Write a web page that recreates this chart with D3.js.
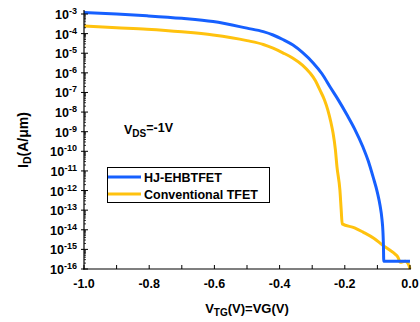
<!DOCTYPE html>
<html><head><meta charset="utf-8">
<script src="https://cdn.jsdelivr.net/npm/d3@7"></script>
<style>body{margin:0;background:#fff}svg{display:block}text{font-family:Arial,"Liberation Sans",sans-serif;font-weight:bold;fill:#000}</style>
</head><body>
<svg id="c" width="420" height="322"></svg>
<script>
const seriesNames = ["HJ-EHBTFET", "Conventional TFET"];
const seriesColors = ["#1660ff", "#ffc20e"];
const blueV = [-1.0,-0.9,-0.807,-0.7,-0.604,-0.5,-0.45,-0.42,-0.39,-0.359,-0.33,-0.297,-0.27,-0.245,-0.22,-0.193,-0.17,-0.144,-0.128,-0.113,-0.1,-0.092,-0.086,-0.083,-0.0815,-0.0805,0.0];
const blueI = [1.2e-3,1.0e-3,8.1e-4,6.0e-4,4.1e-4,1.9e-4,1.26e-4,8.5e-5,5.0e-5,2.6e-5,1.1e-5,3.2e-6,9e-7,1.9e-7,4.2e-8,7.1e-9,1.4e-9,1.6e-10,3.2e-11,4.8e-12,7.9e-13,1.8e-13,3.5e-14,7.9e-15,1.6e-15,2.5e-16,2.5e-16];
const yellowV = [-1.0,-0.9,-0.807,-0.7,-0.604,-0.5,-0.45,-0.42,-0.39,-0.359,-0.33,-0.307,-0.29,-0.276,-0.262,-0.252,-0.243,-0.236,-0.229,-0.224,-0.215,-0.211,-0.208,-0.17,-0.144,-0.11,-0.083,-0.061,-0.045,-0.037,-0.03,-0.015,-0.005,0.0];
const yellowI = [2.45e-4,2.0e-4,1.66e-4,1.23e-4,8.5e-5,4.4e-5,2.8e-5,1.8e-5,1.05e-5,5.6e-6,2.5e-6,1e-6,4e-7,1.3e-7,4e-8,1.26e-8,3.2e-9,8.5e-10,1.26e-10,1.6e-11,1.05e-12,1e-13,2e-14,1.26e-14,7.6e-15,3.6e-15,1.6e-15,9e-16,5.6e-16,4e-16,2.2e-16,2.5e-16,1.8e-16,1e-16];
const xTicks = [-1.0,-0.9,-0.8,-0.7,-0.6,-0.5,-0.4,-0.3,-0.2,-0.1,0.0];
const xTickLabels = ["-1.0","-0.8","-0.6","-0.4","-0.2","0.0"];
const yExponents = [-3,-4,-5,-6,-7,-8,-9,-10,-11,-12,-13,-14,-15,-16];
const annotation = "=-1V";

const svg = d3.select("#c");
const x = d3.scaleLinear().domain([-1, 0]).range([84, 410]);
const y = d3.scaleLog().domain([1e-16, 1e-3]).range([269, 14]);

// curves
const line = d3.line().x(d => x(d[0])).y(d => y(d[1])).curve(d3.curveMonotoneX);
const series = [d3.zip(blueV, blueI), d3.zip(yellowV, yellowI)];
svg.append("path").datum(series[1]).attr("d", line).attr("fill","none").attr("stroke",seriesColors[1]).attr("stroke-width",3);
svg.append("path").datum(series[0]).attr("d", line).attr("fill","none").attr("stroke",seriesColors[0]).attr("stroke-width",3);

// x axis
const xAxis = svg.append("g").attr("transform","translate(0,269)");
xAxis.append("line").attr("x1",83).attr("x2",411).attr("stroke","#000").attr("stroke-width",1.2);
xAxis.selectAll("line.t").data(xTicks).join("line").attr("class","t")
  .attr("x1",d=>x(d)).attr("x2",d=>x(d)).attr("y1",0).attr("y2",-4).attr("stroke","#000");
xAxis.selectAll("text").data(xTickLabels).join("text")
  .attr("x",d=>x(+d)).attr("y",19).attr("text-anchor","middle").attr("font-size",12.5).text(d=>d);

// y axis
const yAxis = svg.append("g");
yAxis.append("line").attr("x1",84).attr("x2",84).attr("y1",10).attr("y2",269.6).attr("stroke","#000").attr("stroke-width",1.2);
const minor = [];
yExponents.forEach(e => { if (e < -3) for (let k = 2; k <= 9; k++) minor.push(k * Math.pow(10, e)); });
yAxis.selectAll("line.m").data(minor).join("line").attr("class","m")
  .attr("x1",84).attr("x2",86).attr("y1",d=>y(d)).attr("y2",d=>y(d)).attr("stroke","#000").attr("stroke-width",0.8);
yAxis.selectAll("line.t").data(yExponents).join("line").attr("class","t")
  .attr("x1",81).attr("x2",88).attr("y1",d=>y(Math.pow(10,d))).attr("y2",d=>y(Math.pow(10,d))).attr("stroke","#000");
const yl = yAxis.selectAll("text").data(yExponents).join("text")
  .attr("x",77).attr("y",d=>y(Math.pow(10,d))+5).attr("text-anchor","end").attr("font-size",12.5);
yl.append("tspan").text("10");
yl.append("tspan").attr("dy",-5).attr("font-size",9).text(d=>String(d));

// axis titles
const xt = svg.append("text").attr("x",247).attr("y",313).attr("text-anchor","middle").attr("font-size",13);
xt.append("tspan").text("V");
xt.append("tspan").attr("dy",3).attr("font-size",10).text("TG");
xt.append("tspan").attr("dy",-3).text("(V)=VG(V)");

const yt = svg.append("text").attr("transform","translate(28,140) rotate(-90)").attr("text-anchor","middle").attr("font-size",14);
yt.append("tspan").text("I");
yt.append("tspan").attr("dy",3).attr("font-size",10.5).text("D");
yt.append("tspan").attr("dy",-3).text("(A/\u03bcm)");

// annotation
const an = svg.append("text").attr("x",124).attr("y",134).attr("font-size",12.5);
an.append("tspan").text("V");
an.append("tspan").attr("dy",3).attr("font-size",10).text("DS");
an.append("tspan").attr("dy",-5).text(annotation);

// legend
const lg = svg.append("g");
lg.append("rect").attr("x",107.5).attr("y",167.5).attr("width",162).attr("height",35).attr("fill","#fff").attr("stroke","#000").attr("stroke-width",1);
seriesNames.forEach((n,i) => {
  const yy = 177 + i*17;
  lg.append("line").attr("x1",108).attr("x2",141).attr("y1",yy).attr("y2",yy).attr("stroke",seriesColors[i]).attr("stroke-width",3);
  lg.append("text").attr("x",144).attr("y",yy+4.5).attr("font-size",12.5).text(n);
});
</script>
</body></html>
